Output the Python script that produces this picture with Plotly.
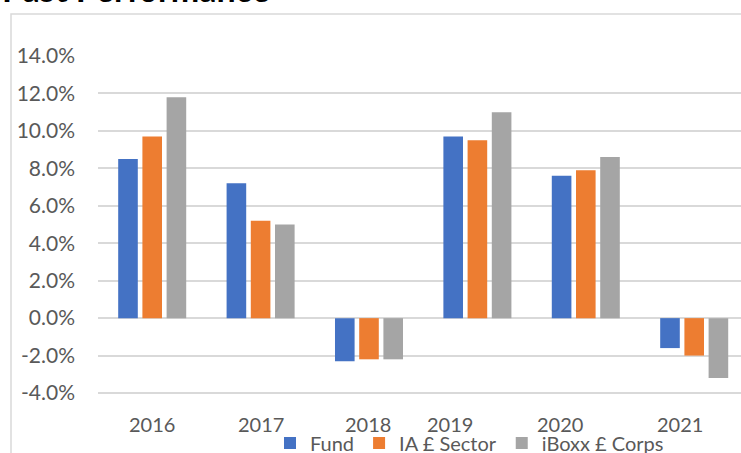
import plotly.graph_objects as go

YEARS = ["2016", "2017", "2018", "2019", "2020", "2021"]
FUND = [8.5, 7.2, -2.3, 9.7, 7.6, -1.6]
IA_SECTOR = [9.7, 5.2, -2.2, 9.5, 7.9, -2.0]
IBOXX = [11.8, 5.0, -2.2, 11.0, 8.6, -3.2]
SERIES_NAMES = ["Fund", "IA £ Sector", "iBoxx £ Corps"]
TICK_VALUES = [-4, -2, 0, 2, 4, 6, 8, 10, 12, 14]
TICK_LABELS = ["-4.0%", "-2.0%", "0.0%", "2.0%", "4.0%", "6.0%", "8.0%", "10.0%", "12.0%", "14.0%"]
TITLE = "Past Performance"

# styling
COLORS = ["#4472C4", "#ED7D31", "#A5A5A5"]
LABEL_SHIFT = [0, 0, -1, -27, -26, -14]   # px offsets of category labels as drawn in the reference
TEXT_COLOR = "#595959"
GRID = "#D9D9D9"
FONT = "Lato"

W, H = 741, 453
L, R, T, B = 98, 0, 56, 45
plot_h = H - T - B
plot_w = W - L - R
cat_px = 108.4


def py(p):
    """pixel row -> paper y"""
    return (T + plot_h - p) / plot_h


def px(p):
    return (p - L) / plot_w


fig = go.Figure()
for name, vals, col in zip(SERIES_NAMES, [FUND, IA_SECTOR, IBOXX], COLORS):
    fig.add_trace(go.Bar(x=YEARS, y=vals, name=name, marker=dict(color=col, line=dict(width=0))))

for i, (yr, dx) in enumerate(zip(YEARS, LABEL_SHIFT)):
    fig.add_annotation(x=i, xref="x", y=py(424), yref="paper", yanchor="middle", xshift=dx,
                       text=yr, showarrow=False, font=dict(family=FONT, size=20, color=TEXT_COLOR))

fig.add_annotation(x=px(0), xref="paper", xanchor="left",
                   y=py(-12), yref="paper", yanchor="middle",
                   text="<b>" + TITLE + "</b>", showarrow=False,
                   font=dict(family=FONT, size=34, color="#000000"))

fig.add_shape(type="rect", xref="paper", yref="paper",
              x0=px(11), x1=1.2, y0=-0.5, y1=py(14),
              line=dict(color=GRID, width=1.5), fillcolor="rgba(0,0,0,0)", layer="below")

fig.update_layout(
    width=W, height=H,
    margin=dict(l=L, r=R, t=T, b=B, pad=0, autoexpand=False),
    paper_bgcolor="white", plot_bgcolor="white",
    barmode="group", bargap=0.33, bargroupgap=0.19,
    font=dict(family=FONT, size=20, color=TEXT_COLOR),
    showlegend=True,
    legend=dict(orientation="h", x=px(270), xanchor="left",
                y=py(443), yanchor="middle",
                font=dict(family=FONT, size=20, color=TEXT_COLOR),
                bgcolor="rgba(0,0,0,0)", itemclick=False),
)
fig.update_xaxes(type="category", range=[-0.5, -0.5 + plot_w / cat_px], showticklabels=False,
                 showgrid=False, showline=False, zeroline=False, ticks="", automargin=False)
fig.update_yaxes(range=[-4.8, 14], tickvals=TICK_VALUES, ticktext=TICK_LABELS,
                 showgrid=True, gridcolor=GRID, gridwidth=1.5, zeroline=True,
                 zerolinecolor=GRID, zerolinewidth=1.5, showline=False, ticks="", automargin=False,
                 ticklabelstandoff=22, tickfont=dict(family=FONT, size=21, color=TEXT_COLOR))

fig.write_html("out.html", config={"displayModeBar": False},
               post_script="document.body.style.margin='0';document.body.style.overflow='hidden';")
